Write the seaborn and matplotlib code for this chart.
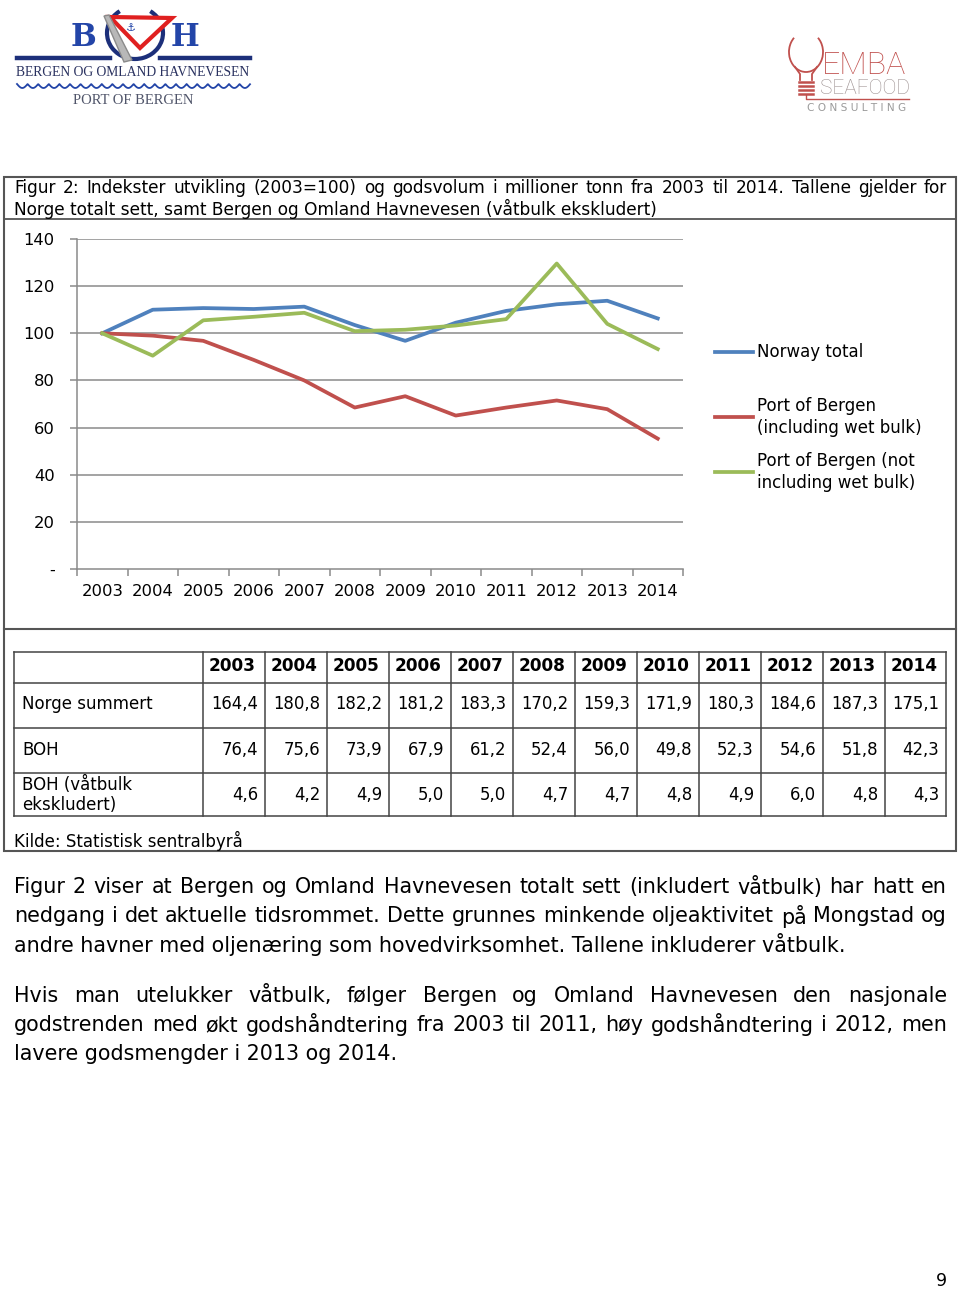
import numpy as np
import pandas as pd
import matplotlib
matplotlib.use("Agg")
import matplotlib.pyplot as plt
import seaborn as sns
from matplotlib.patches import Rectangle, Arc, Polygon
from matplotlib.lines import Line2D
from matplotlib.ticker import FixedLocator, FixedFormatter

# ---------------- data ----------------
years = ["2003", "2004", "2005", "2006", "2007", "2008",
         "2009", "2010", "2011", "2012", "2013", "2014"]
norway_index = [100, 110.0, 110.7, 110.3, 111.3, 103.5, 96.8, 104.5, 109.5, 112.3, 113.8, 106.3]
boh_index = [100, 99.0, 96.8, 88.7, 80.0, 68.5, 73.3, 65.1, 68.5, 71.5, 67.8, 55.3]
boh_dry_index = [100, 90.5, 105.5, 107.0, 108.7, 100.9, 101.5, 103.3, 106.0, 129.6, 104.0, 93.3]
series_names = ["Norway total", "Port of Bergen\n(including wet bulk)",
                "Port of Bergen (not\nincluding wet bulk)"]
series_colors = ["#4F81BD", "#C0504D", "#9BBB59"]
yticks = [0, 20, 40, 60, 80, 100, 120, 140]
ytick_labels = ["-", "20", "40", "60", "80", "100", "120", "140"]

table_rows = ["Norge summert", "BOH", "BOH (våtbulk\nekskludert)"]
norge_summert = [164.4, 180.8, 182.2, 181.2, 183.3, 170.2, 159.3, 171.9, 180.3, 184.6, 187.3, 175.1]
boh_total = [76.4, 75.6, 73.9, 67.9, 61.2, 52.4, 56.0, 49.8, 52.3, 54.6, 51.8, 42.3]
boh_dry = [4.6, 4.2, 4.9, 5.0, 5.0, 4.7, 4.7, 4.8, 4.9, 6.0, 4.8, 4.3]

caption = ["Figur 2: Indekster utvikling (2003=100) og godsvolum i millioner tonn fra 2003 til 2014. Tallene gjelder for",
           "Norge totalt sett, samt Bergen og Omland Havnevesen (våtbulk ekskludert)"]
source = "Kilde: Statistisk sentralbyrå"
para1 = ["Figur 2 viser at Bergen og Omland Havnevesen totalt sett (inkludert våtbulk) har hatt en",
         "nedgang i det aktuelle tidsrommet. Dette grunnes minkende oljeaktivitet på Mongstad og",
         "andre havner med oljenæring som hovedvirksomhet. Tallene inkluderer våtbulk."]
para2 = ["Hvis man utelukker våtbulk, følger Bergen og Omland Havnevesen den nasjonale",
         "godstrenden med økt godshåndtering fra 2003 til 2011, høy godshåndtering i 2012, men",
         "lavere godsmengder i 2013 og 2014."]

# ---------------- figure ----------------
W, H = 960, 1289
plt.rcParams["font.family"] = ["DejaVu Sans"]
fig = plt.figure(figsize=(W / 100, H / 100), dpi=100)
fig.patch.set_facecolor("white")

deco = fig.add_axes([0, 0, 1, 1], zorder=0)
deco.set_xlim(0, W)
deco.set_ylim(H, 0)
deco.axis("off")
renderer = fig.canvas.get_renderer()


def put_line(text, y, justify, size, x0=14, x1=947):
    if not justify:
        deco.text(x0, y, text, fontsize=size, ha="left", va="center")
        return
    words = text.split(" ")
    objs = [deco.text(0, y, w, fontsize=size, ha="left", va="center") for w in words]
    widths = [o.get_window_extent(renderer=renderer).width for o in objs]
    gap = (x1 - x0 - sum(widths)) / (len(words) - 1)
    x = x0
    for o, w in zip(objs, widths):
        o.set_x(x)
        x += w + gap


BOX = "#555555"
# outer frame
deco.add_patch(Rectangle((4, 177), 952, 674, fill=False, lw=1.5, ec=BOX))
deco.plot([4, 956], [219, 219], color=BOX, lw=1.3)
deco.plot([4, 956], [629, 629], color=BOX, lw=1.5)

put_line(caption[0], 188, True, 12.25)
put_line(caption[1], 209, False, 12.25)

# ---------------- chart ----------------
ax = fig.add_axes([77 / W, 1 - 569 / H, 606 / W, 330 / H], zorder=2)
ax.patch.set_alpha(0)
df = pd.DataFrame({
    "year": years * 3,
    "value": norway_index + boh_index + boh_dry_index,
    "series": [series_names[0]] * 12 + [series_names[1]] * 12 + [series_names[2]] * 12,
})
sns.lineplot(data=df, x="year", y="value", hue="series", hue_order=series_names,
             palette=series_colors, linewidth=2.7, sort=False, legend=False, ax=ax)
ax.set_xlim(-0.5, 11.5)
ax.set_ylim(0, 140)
ax.set_xlabel("")
ax.set_ylabel("")
GRID = "#8a8a8a"
for v in yticks[1:]:
    ax.axhline(v, color=GRID, lw=1.1, zorder=0)
ax.yaxis.set_major_locator(FixedLocator(yticks))
ax.yaxis.set_major_formatter(FixedFormatter(ytick_labels))
ax.tick_params(axis="y", length=5, width=1.1, color=GRID, pad=11, labelsize=11.8)
ax.xaxis.set_major_locator(FixedLocator(range(12)))
ax.xaxis.set_major_formatter(FixedFormatter(years))
ax.xaxis.set_minor_locator(FixedLocator(np.arange(-0.5, 12, 1)))
ax.tick_params(axis="x", which="major", length=0, pad=11, labelsize=11.8)
ax.tick_params(axis="x", which="minor", length=5, width=1.1, color=GRID)
for s in ["top", "right"]:
    ax.spines[s].set_visible(False)
for s in ["left", "bottom"]:
    ax.spines[s].set_color(GRID)
    ax.spines[s].set_linewidth(1.1)

# legend
leg_y = [352, 417, 472]
for name, col, y in zip(series_names, series_colors, leg_y):
    deco.add_line(Line2D([715, 753], [y, y], color=col, lw=2.7))
    deco.text(757, y, name, fontsize=12.0, va="center", ha="left", linespacing=1.3)

# ---------------- table ----------------
TL = "#444444"
col_edges = [14, 203] + [265 + 62 * i for i in range(11)] + [946]
row_edges = [652, 683, 728, 773, 816]
for x in col_edges:
    deco.plot([x, x], [row_edges[0], row_edges[-1]], color=TL, lw=1.1)
for y in row_edges:
    deco.plot([col_edges[0], col_edges[-1]], [y, y], color=TL, lw=1.1)
for j, yr in enumerate(years):
    deco.text((col_edges[j + 1] + col_edges[j + 2]) / 2 - 1.5, 666, yr, fontsize=12.2,
              fontweight="bold", ha="center", va="center")
row_y = [704, 750, 795]
for r, (label, vals) in enumerate(zip(table_rows, [norge_summert, boh_total, boh_dry])):
    deco.text(22, row_y[r], label, fontsize=12.0, ha="left", va="center", linespacing=1.2)
    for j, v in enumerate(vals):
        deco.text(col_edges[j + 2] - 7, row_y[r], f"{v:.1f}".replace(".", ","),
                  fontsize=11.9, ha="right", va="center")
deco.text(14, 841, source, fontsize=12.0, ha="left", va="center")

# ---------------- body text ----------------
for i, line in enumerate(para1):
    put_line(line, 887 + 29 * i, (i < 2), 14.9)
for i, line in enumerate(para2):
    put_line(line, 996 + 29 * i, (i < 2), 14.9)

deco.text(941, 1281, "9", fontsize=12.5, ha="center", va="center")

# ---------------- logos ----------------
NAVY = "#1c2f7a"
BLUE = "#2345a8"
# BOH
deco.text(83, 37, "B", fontsize=22, family="DejaVu Serif", fontweight="bold", color=BLUE,
          ha="center", va="center")
deco.text(185, 37, "H", fontsize=22, family="DejaVu Serif", fontweight="bold", color=BLUE,
          ha="center", va="center")
deco.plot([17, 110], [58, 58], color=NAVY, lw=3.2)
deco.plot([160, 250], [58, 58], color=NAVY, lw=3.2)
deco.add_patch(Arc((135, 33), 56, 52, theta1=-55, theta2=235, color=NAVY, lw=3))
deco.add_patch(Polygon([[110, 17], [172, 18], [140, 48]], closed=True,
                       fc="white", ec="#e02020", lw=3, joinstyle="miter"))
deco.text(131, 28, "⚓", fontsize=8, color=BLUE, ha="center", va="center")
deco.add_patch(Polygon([[104, 16], [109, 15], [132, 60], [124, 62]], closed=True,
                       fc="#b8b8b8", ec="#8a8a8a", lw=1))
deco.text(133, 72, "BERGEN OG OMLAND HAVNEVESEN", fontsize=9.8, family="Liberation Serif",
          color="#2a3260", ha="center", va="center")
xs = np.linspace(17, 250, 600)
deco.plot(xs, 84 + 4 * np.abs(np.sin(np.pi * (xs - 17) / 10.6)), color=BLUE, lw=1.3)
deco.text(133, 101, "PORT OF BERGEN", fontsize=10.5, family="Liberation Serif",
          color="#50556a", ha="center", va="center")

# GEMBA
RED = "#c0504d"
deco.add_patch(Arc((806, 52), 34, 40, theta1=-50, theta2=230, color=RED, lw=1.3))
deco.plot([795, 800, 800], [67, 74, 80], color=RED, lw=1.3)
deco.plot([817, 812, 812], [67, 74, 80], color=RED, lw=1.3)
for yy in [82, 86, 90, 94]:
    deco.plot([799, 813], [yy, yy], color=RED, lw=1.8)
deco.plot([806, 806, 909], [95, 98.5, 98.5], color=RED, lw=1.0)
deco.text(864, 65, "EMBA", fontsize=23, family="Roboto", fontweight="light", color=RED,
          ha="center", va="center")
deco.text(865, 88, "SEAFOOD", fontsize=15, family="Roboto", fontweight="light",
          color="#9a8e8e", ha="center", va="center")
deco.text(857, 108, "C O N S U L T I N G", fontsize=7.6, family="DejaVu Sans",
          color="#9a9a9a", ha="center", va="center")

fig.savefig("out.png", dpi=100, facecolor="white")
